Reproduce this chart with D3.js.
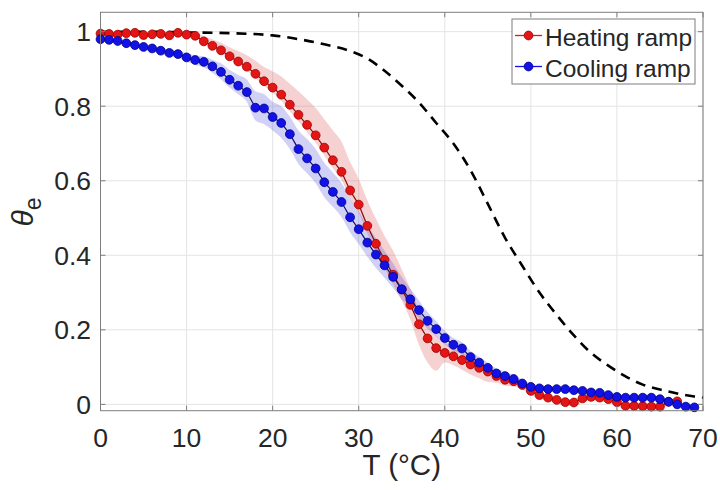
<!DOCTYPE html>
<html>
<head>
<meta charset="utf-8">
<script src="https://cdn.jsdelivr.net/npm/d3@7"></script>
<style>
  html, body { margin: 0; padding: 0; background: #fff; }
  svg { display: block; font-family: "Liberation Sans", Arial, sans-serif; }
</style>
</head>
<body>
<svg id="chart" width="720" height="490"></svg>
<script>
// ---------------- data ----------------
const tempC = [0,1,2,3,4,5,6,7,8,9,10,11,12,13,14,15,16,17,18,19,20,21,22,23,24,25,26,27,28,29,
  30,31,32,33,34,35,36,37,38,39,40,41,42,43,44,45,46,47,48,49,50,51,52,53,54,55,56,57,58,59,
  60,61,62,63,64,65,66,67,68,69];

const heatingMean = [0.995,0.994,0.992,0.996,0.997,0.991,0.993,0.994,0.990,0.997,0.992,0.989,0.974,0.962,0.950,
  0.934,0.920,0.906,0.887,0.867,0.850,0.831,0.804,0.777,0.750,0.722,0.689,0.655,0.624,0.574,
  0.536,0.479,0.431,0.388,0.348,0.308,0.267,0.215,0.177,0.151,0.138,0.129,0.119,0.107,0.098,
  0.088,0.076,0.066,0.062,0.052,0.036,0.025,0.018,0.012,0.006,0.005,0.016,0.020,0.018,0.014,
  0.006,-0.004,-0.004,-0.005,-0.006,-0.006,0.007,0.008];
const heatingHigh = [1.000,0.999,0.997,1.000,1.001,0.996,0.998,0.999,0.996,1.001,0.998,0.996,0.988,0.980,0.970,
  0.958,0.948,0.937,0.922,0.905,0.893,0.880,0.860,0.840,0.818,0.795,0.765,0.735,0.705,0.650,
  0.605,0.548,0.498,0.452,0.412,0.362,0.310,0.255,0.215,0.185,0.165,0.152,0.140,0.127,0.116,
  0.104,0.092,0.080,0.074,0.062,0.046,0.034,0.027,0.021,0.015,0.014,0.026,0.030,0.028,0.024,
  0.016,0.006,0.006,0.005,0.004,0.005,0.016,0.016];
const heatingLow = [0.990,0.989,0.987,0.991,0.992,0.986,0.988,0.989,0.985,0.992,0.986,0.983,0.968,0.956,0.943,
  0.926,0.911,0.896,0.876,0.855,0.836,0.815,0.787,0.759,0.731,0.702,0.668,0.634,0.602,0.552,
  0.514,0.458,0.410,0.366,0.322,0.278,0.228,0.160,0.112,0.090,0.112,0.105,0.093,0.080,0.070,
  0.060,0.058,0.050,0.048,0.040,0.026,0.016,0.009,0.003,-0.004,-0.005,0.006,0.010,0.008,0.004,
  -0.004,-0.013,-0.013,-0.014,-0.015,-0.015,-0.002,0.000];

const coolingMean = [0.980,0.978,0.975,0.969,0.964,0.959,0.955,0.949,0.943,0.940,0.931,0.924,0.919,0.907,0.892,
  0.871,0.855,0.838,0.796,0.794,0.771,0.755,0.725,0.685,0.660,0.633,0.596,0.570,0.543,0.502,
  0.470,0.434,0.402,0.373,0.342,0.309,0.282,0.253,0.224,0.202,0.178,0.160,0.150,0.127,0.112,
  0.098,0.083,0.076,0.068,0.056,0.047,0.043,0.041,0.041,0.041,0.038,0.036,0.032,0.031,0.025,
  0.020,0.018,0.018,0.018,0.018,0.014,0.007,0.000,-0.006,-0.008];
const coolingHigh = [0.985,0.983,0.980,0.975,0.970,0.966,0.963,0.957,0.952,0.950,0.942,0.937,0.934,0.925,0.915,
  0.897,0.884,0.872,0.840,0.832,0.812,0.800,0.772,0.735,0.712,0.685,0.648,0.622,0.594,0.552,
  0.518,0.480,0.446,0.412,0.378,0.342,0.310,0.279,0.248,0.224,0.198,0.178,0.167,0.143,0.127,
  0.112,0.096,0.088,0.079,0.066,0.056,0.051,0.049,0.049,0.049,0.046,0.044,0.040,0.039,0.033,
  0.028,0.026,0.026,0.026,0.026,0.022,0.015,0.008,0.002,0.000];
const coolingLow = [0.975,0.973,0.970,0.963,0.958,0.952,0.947,0.941,0.934,0.930,0.920,0.911,0.904,0.890,0.872,
  0.850,0.832,0.812,0.762,0.752,0.735,0.715,0.685,0.645,0.620,0.593,0.556,0.530,0.503,0.462,
  0.430,0.396,0.366,0.340,0.312,0.282,0.258,0.230,0.203,0.183,0.161,0.144,0.134,0.113,0.099,
  0.086,0.071,0.065,0.058,0.047,0.039,0.035,0.033,0.033,0.033,0.030,0.028,0.024,0.023,0.017,
  0.012,0.010,0.010,0.010,0.010,0.006,-0.001,-0.008,-0.014,-0.016];

const modelT = [0,5,10,15,20,23,26,29,31,33,35,37,39,41,43,45,47,49,51,53,55,57,59,61,63,65,67,69,70];
const modelTheta = [1.000,1.000,0.998,0.996,0.990,0.980,0.966,0.948,0.928,0.895,0.855,0.810,0.755,0.700,0.628,
  0.538,0.447,0.372,0.300,0.240,0.185,0.138,0.104,0.075,0.053,0.040,0.029,0.021,0.018];

const xTicks = [0,10,20,30,40,50,60,70];
const yTicks = [0,0.2,0.4,0.6,0.8,1];
const yTickLabels = ["0","0.2","0.4","0.6","0.8","1"];
const seriesNames = ["Heating ramp","Cooling ramp"];

// ---------------- layout ----------------
const svg = d3.select("#chart");
const L = 100.5, R = 703, T = 12.3, B = 410.7;
const x = d3.scaleLinear().domain([0,70]).range([L,R]);
const y = d3.scaleLinear().domain([-0.017,1.052]).range([B,T]);
const axisColor = "#7d7d7d", textColor = "#262626";

// grid
const grid = svg.append("g");
grid.selectAll(".gx").data(xTicks).join("line")
  .attr("x1", d=>x(d)).attr("x2", d=>x(d)).attr("y1", T).attr("y2", B)
  .attr("stroke", "#e4e4e4").attr("stroke-width", 1);
grid.selectAll(".gy").data(yTicks).join("line")
  .attr("y1", d=>y(d)).attr("y2", d=>y(d)).attr("x1", L).attr("x2", R)
  .attr("stroke", "#e4e4e4").attr("stroke-width", 1);

// dashed model curve
svg.append("path")
  .datum(modelT.map((t,i)=>[t, modelTheta[i]]))
  .attr("d", d3.line().x(d=>x(d[0])).y(d=>y(d[1])).curve(d3.curveMonotoneX))
  .attr("fill","none").attr("stroke","#000").attr("stroke-width",2.6)
  .attr("stroke-dasharray","10,7");

function band(hi, lo, n, fill) {
  const pts = d3.range(n).map(i => ({t: tempC[i], hi: hi[i], lo: lo[i]}));
  svg.append("path").datum(pts)
    .attr("d", d3.area().x(d=>x(d.t)).y0(d=>y(d.lo)).y1(d=>y(d.hi)).curve(d3.curveMonotoneX))
    .attr("fill", fill).attr("stroke","none");
}
band(heatingHigh, heatingLow, heatingMean.length, "rgba(215,70,70,0.25)");
band(coolingHigh, coolingLow, coolingMean.length, "rgba(70,70,215,0.25)");

function series(vals, line, fill, edge) {
  const pts = vals.map((v,i)=>[tempC[i], v]);
  svg.append("path").datum(pts)
    .attr("d", d3.line().x(d=>x(d[0])).y(d=>y(d[1])))
    .attr("fill","none").attr("stroke", line).attr("stroke-width",1.2);
  svg.append("g").selectAll("circle").data(pts).join("circle")
    .attr("cx", d=>x(d[0])).attr("cy", d=>y(d[1])).attr("r", 4.4)
    .attr("fill", fill).attr("stroke", edge).attr("stroke-width", 0.8);
}
series(heatingMean, "#8a0a0a", "#e41515", "#a00000");
series(coolingMean, "#10106a", "#1212e6", "#00008c");

// axes box and ticks (inward, all sides)
svg.append("rect").attr("x", L).attr("y", T).attr("width", R-L).attr("height", B-T)
  .attr("fill","none").attr("stroke", axisColor).attr("stroke-width",1);
const tk = svg.append("g").attr("stroke", axisColor).attr("stroke-width",1);
xTicks.forEach(d=>{
  tk.append("line").attr("x1",x(d)).attr("x2",x(d)).attr("y1",B).attr("y2",B-5);
  tk.append("line").attr("x1",x(d)).attr("x2",x(d)).attr("y1",T).attr("y2",T+5);
});
yTicks.forEach(d=>{
  tk.append("line").attr("x1",L).attr("x2",L+5).attr("y1",y(d)).attr("y2",y(d));
  tk.append("line").attr("x1",R).attr("x2",R-5).attr("y1",y(d)).attr("y2",y(d));
});

// tick labels
svg.append("g").selectAll("text").data(xTicks).join("text")
  .attr("x", d=>x(d)).attr("y", 446.5).attr("text-anchor","middle")
  .attr("font-size", 26.5).attr("fill", textColor).text(d=>d);
svg.append("g").selectAll("text").data(yTicks).join("text")
  .attr("x", 91).attr("y", d=>y(d)+9.5).attr("text-anchor","end")
  .attr("font-size", 26.5).attr("fill", textColor).text((d,i)=>yTickLabels[i]);

// axis labels
svg.append("text").attr("x", (L+R)/2).attr("y", 475).attr("text-anchor","middle")
  .attr("font-size", 29.5).attr("fill", textColor).text("T (°C)");
const yl = svg.append("text").attr("transform","translate(33,212) rotate(-90)")
  .attr("text-anchor","middle").attr("fill", textColor);
yl.append("tspan").attr("font-size", 30).attr("font-style","italic").text("θ");
yl.append("tspan").attr("font-size", 23).attr("dy", 8).text("e");

// legend
const lg = svg.append("g");
lg.append("rect").attr("x",512).attr("y",19).attr("width",183).attr("height",65)
  .attr("fill","#fff").attr("stroke", axisColor).attr("stroke-width",1);
const legendRows = [
  {name: seriesNames[0], line:"#e41515", fill:"#e41515", edge:"#a00000", cy:35.5, by:45.5},
  {name: seriesNames[1], line:"#1212e6", fill:"#1212e6", edge:"#00008c", cy:66.5, by:77}
];
legendRows.forEach(r=>{
  lg.append("line").attr("x1",515).attr("x2",542).attr("y1",r.cy).attr("y2",r.cy)
    .attr("stroke", r.line).attr("stroke-width",1.3);
  lg.append("circle").attr("cx",528.5).attr("cy",r.cy).attr("r",4.4)
    .attr("fill", r.fill).attr("stroke", r.edge).attr("stroke-width",0.8);
  lg.append("text").attr("x",545).attr("y",r.by).attr("font-size",24.5)
    .attr("fill", textColor).text(r.name);
});
</script>
</body>
</html>
